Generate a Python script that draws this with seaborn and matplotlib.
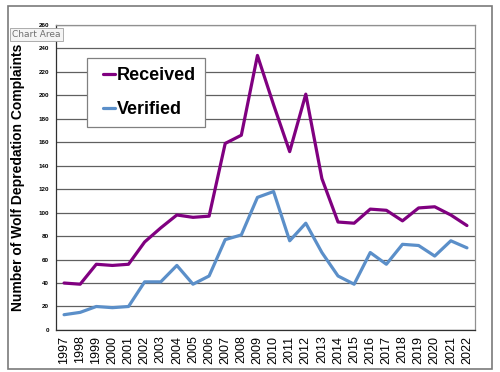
import pandas as pd
import numpy as np
import matplotlib
matplotlib.use('Agg')
import matplotlib.pyplot as plt
import matplotlib.patches as mpatches
from matplotlib.legend_handler import HandlerLine2D
import seaborn as sns

# Data
years = list(range(1997, 2023))
received = [40, 39, 56, 55, 56, 75, 87, 98, 96, 97, 159, 166, 234,
            192, 152, 201, 129, 92, 91, 103, 102, 93, 104, 105, 98, 89]
verified = [13, 15, 20, 19, 20, 41, 41, 55, 39, 46, 77, 81, 113,
            118, 76, 91, 66, 46, 39, 66, 56, 73, 72, 63, 76, 70]
y_ticks = list(range(0, 261, 20))

df = pd.DataFrame({'Year': years * 2,
                   'Complaints': received + verified,
                   'Series': ['Received'] * len(years) + ['Verified'] * len(years)})

sns.set_style('white')
plt.rcParams['font.family'] = ['Liberation Sans', 'DejaVu Sans']
plt.rcParams['text.color'] = 'black'
plt.rcParams['axes.labelcolor'] = 'black'
plt.rcParams['xtick.color'] = 'black'
plt.rcParams['ytick.color'] = 'black'


# legend line drawn only on the right part of the handle box (Excel style)
class ShortLine(HandlerLine2D):
    def create_artists(self, legend, orig_handle, xdescent, ydescent,
                       width, height, fontsize, trans):
        arts = super().create_artists(legend, orig_handle, xdescent, ydescent,
                                      width, height, fontsize, trans)
        ymid = np.asarray(arts[0].get_ydata())[0]
        arts[0].set_data([-xdescent + width * 0.38, -xdescent + width], [ymid, ymid])
        return arts


fig = plt.figure(figsize=(5, 3.72), dpi=100)
ax = fig.add_axes([0.112, 0.113, 0.838, 0.82])

colors = {'Received': '#800080', 'Verified': '#5B8FC9'}
sns.lineplot(data=df, x='Year', y='Complaints', hue='Series', palette=colors,
             linewidth=2.3, ax=ax, legend=False)

ax.set_xlim(1996.5, 2022.5)
ax.set_ylim(0, 260)
ax.set_yticks(y_ticks)
ax.set_yticklabels([str(t) for t in y_ticks], fontsize=4.5, fontweight='bold')
ax.yaxis.grid(True, color='#606060', linewidth=0.9)
ax.set_axisbelow(True)

ax.set_xticks(years)
ax.set_xticklabels([str(y) for y in years], rotation=90, fontsize=9)
ax.tick_params(axis='x', which='major', length=0, pad=4)
ax.set_xticks(np.arange(1996.5, 2023, 1), minor=True)
ax.tick_params(axis='x', which='minor', length=4, color='#404040', width=0.8)
ax.tick_params(axis='y', length=3, color='#404040', width=0.8, pad=2)

for side in ['left', 'bottom']:
    ax.spines[side].set_color('#303030')
    ax.spines[side].set_linewidth(0.9)
for side in ['top', 'right']:
    ax.spines[side].set_color('#909090')
    ax.spines[side].set_linewidth(0.9)

ax.set_xlabel('')
ax.set_ylabel('Number of Wolf Depredation Complaints', fontsize=10,
              fontweight='bold', labelpad=10)

names = ['Received', 'Verified']
handles = [plt.Line2D([], [], color=colors[s], linewidth=2.3) for s in names]
leg = ax.legend(handles, names, loc='upper left',
                bbox_to_anchor=(0.074, 0.892), borderaxespad=0,
                prop={'size': 13, 'weight': 'bold'},
                handlelength=1.05, handletextpad=0.1, labelspacing=0.96,
                borderpad=0.5, fancybox=False, framealpha=1,
                edgecolor='#808080',
                handler_map={plt.Line2D: ShortLine()})
leg.get_frame().set_linewidth(0.9)
for t in leg.get_texts():
    t.set_color('black')

# outer chart area border
fig.patches.append(mpatches.Rectangle((0.016, 0.008), 0.968, 0.976,
                                      transform=fig.transFigure, fill=False,
                                      edgecolor='#7a7a7a', linewidth=1.2))

# "Chart Area" tooltip
fig.text(0.024, 0.9, 'Chart Area', fontsize=6.5, color='#707070',
         family=['DejaVu Sans'],
         bbox=dict(boxstyle='square,pad=0.25', facecolor='#f4f4f4',
                   edgecolor='#a0a0a0', linewidth=0.6))

fig.savefig('out.png', dpi=100)
plt.close(fig)
